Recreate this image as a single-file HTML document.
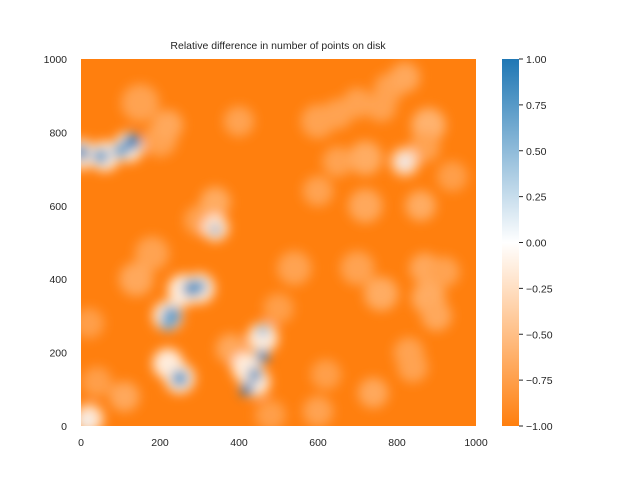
<!DOCTYPE html>
<html><head><meta charset="utf-8"><style>
body{margin:0;background:#fff;font-family:"Liberation Sans",sans-serif}
svg text{font-family:"Liberation Sans",sans-serif;font-size:10.5px;fill:#262626}
</style></head><body>
<svg id="chart" width="640" height="480">
<defs>
<filter id="blur" x="-20%" y="-20%" width="140%" height="140%"><feGaussianBlur stdDeviation="5.5"/></filter>
<linearGradient id="cbar" x1="0" y1="1" x2="0" y2="0">
<stop offset="0" stop-color="#ff7f0e"/><stop offset="0.5" stop-color="#ffffff"/><stop offset="1" stop-color="#1f77b4"/>
</linearGradient>
<clipPath id="clip"><rect x="81" y="59" width="395" height="367"/></clipPath>
</defs>
<text x="278" y="49" text-anchor="middle">Relative difference in number of points on disk</text>
<rect x="81" y="59" width="395" height="367" fill="#ff7f0e"/>
<g id="blobs" clip-path="url(#clip)" filter="url(#blur)"></g>
<g id="axes"></g>
<rect x="502" y="59" width="17" height="367" fill="url(#cbar)"/>
<g id="cbticks"></g>
</svg>
<script>
const blobX=[150,200,220,400,600,650,700,780,820,760,880,870,720,650,600,720,860,940,180,140,300,340,540,700,760,880,900,870,920,830,840,740,600,110,40,20,500,380,480,620,
0,60,120,220,260,300,220,250,340,440,420,460,820,20,
0,50,100,130,230,280,300,220,250,340,420,440,460,460,820,10];
const blobY=[880,780,820,830,830,850,880,920,950,870,820,760,730,720,640,600,600,680,470,400,560,610,430,430,360,350,300,430,420,200,160,90,40,80,120,280,320,210,30,140,
740,735,760,300,370,375,170,130,540,120,160,240,720,20,
745,735,750,775,300,375,380,280,130,535,100,140,190,260,720,10];
const blobR=[50,45,40,40,45,40,40,40,40,40,45,40,45,40,40,45,40,40,45,45,40,40,45,45,45,45,40,40,40,40,40,40,40,40,40,40,40,40,40,40,
40,40,40,40,42,40,40,40,35,40,40,40,38,38,
20,20,20,22,25,22,18,20,22,12,18,18,18,15,15,15];
const blobV=[-0.72,-0.72,-0.68,-0.72,-0.72,-0.72,-0.72,-0.72,-0.68,-0.72,-0.6,-0.72,-0.65,-0.72,-0.72,-0.68,-0.65,-0.75,-0.72,-0.68,-0.72,-0.65,-0.72,-0.72,-0.65,-0.65,-0.68,-0.68,-0.72,-0.72,-0.72,-0.68,-0.72,-0.68,-0.75,-0.75,-0.75,-0.68,-0.75,-0.75,
-0.2,-0.15,-0.15,-0.15,-0.15,-0.15,-0.15,-0.15,-0.2,-0.15,-0.15,-0.15,-0.35,-0.2,
0.85,0.75,0.7,0.95,0.75,0.85,0.75,0.65,0.75,0.8,0.95,0.85,0.9,0.5,0.1,0.1];
const xTicks=[0,200,400,600,800,1000];
const yTicks=[0,200,400,600,800,1000];
const cTicks=[-1,-0.75,-0.5,-0.25,0,0.25,0.5,0.75,1];
const cLabels=["\u22121.00","\u22120.75","\u22120.50","\u22120.25","0.00","0.25","0.50","0.75","1.00"];
const X=v=>81+v/1000*395, Y=v=>426-v/1000*367, R=v=>v*0.38, C=v=>426-(v+1)/2*367;
function col(v){const o=[255,127,14],w=[255,255,255],b=[31,119,180];let a,c,t;if(v<0){a=o;c=w;t=v+1}else{a=w;c=b;t=v}
return `rgb(${a.map((q,i)=>Math.round(q+(c[i]-q)*t)).join(",")})`;}
const NS="http://www.w3.org/2000/svg";
const g=document.getElementById("blobs");
blobX.forEach((x,i)=>{const c=document.createElementNS(NS,"circle");
c.setAttribute("cx",X(x));c.setAttribute("cy",Y(blobY[i]));c.setAttribute("r",R(blobR[i]));c.setAttribute("fill",col(blobV[i]));


g.appendChild(c);});
const ax=document.getElementById("axes");
function txt(p,x,y,s,anchor){const t=document.createElementNS(NS,"text");t.setAttribute("x",x);t.setAttribute("y",y);t.setAttribute("text-anchor",anchor);t.textContent=s;p.appendChild(t);return t;}
xTicks.forEach(v=>{const t=txt(ax,X(v),446,v,"middle");

});
yTicks.forEach(v=>{const t=txt(ax,67,Y(v)+4,v,"end");

});
const cb=document.getElementById("cbticks");
cTicks.forEach((v,i)=>{const l=document.createElementNS(NS,"line");l.setAttribute("x1",519);l.setAttribute("x2",523);l.setAttribute("y1",C(v));l.setAttribute("y2",C(v));l.setAttribute("stroke","#262626");


cb.appendChild(l);
const t=txt(cb,526,C(v)+4,cLabels[i],"start");

});
</script>
</body></html>
